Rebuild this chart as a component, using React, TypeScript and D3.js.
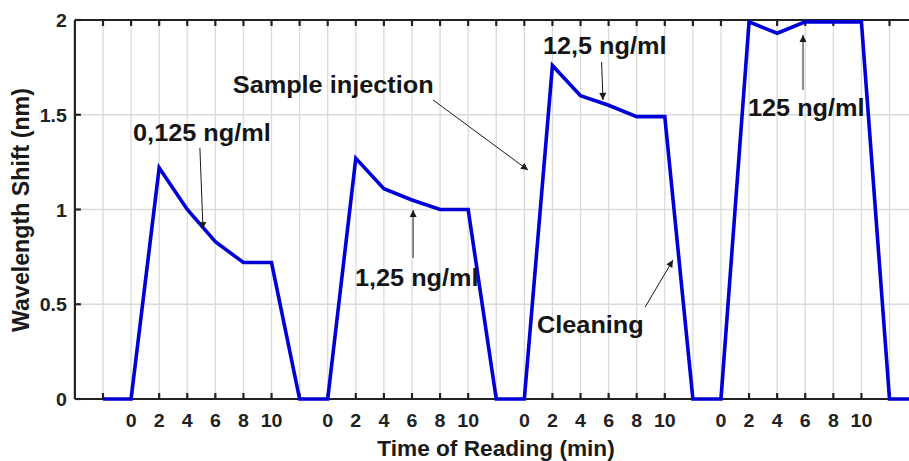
import React from 'react';
import * as d3 from 'd3';

// readings taken at these times within each injection cycle
const times = [0, 2, 4, 6, 8, 10];
const concentrations = ['0,125 ng/ml', '1,25 ng/ml', '12,5 ng/ml', '125 ng/ml'];
const shift0125 = [0, 1.22, 1.0, 0.83, 0.72, 0.72];
const shift125a = [0, 1.27, 1.11, 1.05, 1.0, 1.0];
const shift125b = [0, 1.76, 1.6, 1.55, 1.49, 1.49];
const shift125c = [0, 1.99, 1.93, 1.99, 1.99, 1.99];
const cycles = [shift0125, shift125a, shift125b, shift125c];
const yTicks = [0, 0.5, 1, 1.5, 2];

// annotations in data units (x = reading slot index, y = shift)
const labels = [
  { text: concentrations[0], x: 1.07, y: 1.36 },
  { text: 'Sample injection', x: 4.62, y: 1.615 },
  { text: concentrations[2], x: 15.66, y: 1.82 },
  { text: concentrations[1], x: 8.97, y: 0.596 },
  { text: 'Cleaning', x: 15.45, y: 0.348 },
  { text: concentrations[3], x: 22.96, y: 1.493 },
];
const arrows = [
  { x1: 3.45, y1: 1.325, x2: 3.56, y2: 0.897 },
  { x1: 11.75, y1: 1.578, x2: 15.13, y2: 1.208 },
  { x1: 17.75, y1: 1.778, x2: 17.8, y2: 1.578 },
  { x1: 11.04, y1: 0.744, x2: 11.04, y2: 0.997 },
  { x1: 19.3, y1: 0.485, x2: 20.29, y2: 0.733 },
  { x1: 24.92, y1: 1.631, x2: 24.92, y2: 1.921 },
];

const W = 909;
const H = 461;
const FONT = "'Liberation Sans', Arial, sans-serif";
const SX = 1.06;

export default function App() {
  // one slot before each cycle for the baseline, then the 6 readings
  const series: [number, number][] = [];
  cycles.forEach((c, k) => {
    series.push([k * 7, 0]);
    c.forEach((v, j) => series.push([k * 7 + 1 + j, v]));
  });
  series.push([28, 0]);
  series.push([29.5, 0]);

  const x = d3.scaleLinear().domain([-1, 29.5]).range([74.9, 74.9 + 30.5 * 28.09]);
  const y = d3.scaleLinear().domain([0, 2]).range([399, 20]);
  const line = d3.line<[number, number]>().x(d => x(d[0])).y(d => y(d[1]));

  const xTicks = d3.range(0, 29);
  const tickLabel = (i: number) => (i % 7 === 0 ? '' : String(times[(i % 7) - 1]));

  const x0 = x(-1);
  const x1 = W + 10;
  const yTop = y(2);
  const yBot = y(0);

  return (
    <svg width={W} height={H} style={{ position: 'absolute', left: 0, top: 0, background: '#fff' }}
      fontFamily={FONT} fontWeight="bold">
      <defs>
        <marker id="ah" viewBox="0 0 10 10" refX="10" refY="5" markerWidth="9" markerHeight="7"
          markerUnits="userSpaceOnUse" orient="auto">
          <path d="M0,0 L10,5 L0,10 z" fill="#1a1a1a" />
        </marker>
        <clipPath id="plot">
          <rect x={x0} y={yTop - 2} width={x1 - x0} height={yBot - yTop + 4} />
        </clipPath>
      </defs>

      {/* grid */}
      <g stroke="#dadada" strokeWidth={1.3}>
        {xTicks.map(i => (
          <line key={i} x1={x(i)} x2={x(i)} y1={yTop} y2={yBot} />
        ))}
        {yTicks.slice(1, -1).map(v => (
          <line key={v} x1={x0} x2={x1} y1={y(v)} y2={y(v)} />
        ))}
      </g>

      {/* axes box */}
      <g stroke="#222" strokeWidth={2.2} fill="none">
        <line x1={x0} x2={x1} y1={yBot} y2={yBot} />
        <line x1={x0} x2={x1} y1={yTop} y2={yTop} />
        <line x1={x0} x2={x0} y1={yTop} y2={yBot} />
        {xTicks.map(i => (
          <g key={i}>
            <line x1={x(i)} x2={x(i)} y1={yBot} y2={yBot - 6} />
            <line x1={x(i)} x2={x(i)} y1={yTop} y2={yTop + 6} />
          </g>
        ))}
        {yTicks.map(v => (
          <line key={v} x1={x0} x2={x0 + 6} y1={y(v)} y2={y(v)} />
        ))}
      </g>

      {/* tick labels */}
      <g fill="#222" fontSize={18.5}>
        {xTicks.map(i => (
          <text key={i} textAnchor="middle" transform={`translate(${x(i)},${yBot + 28}) scale(${SX},1)`}>
            {tickLabel(i)}
          </text>
        ))}
        {yTicks.map(v => (
          <text key={v} textAnchor="end" transform={`translate(${x0 - 8},${y(v) + 7}) scale(${SX},1)`}>
            {String(v)}
          </text>
        ))}
      </g>

      {/* axis titles */}
      <text fontSize={22} fill="#1a1a1a" textAnchor="middle" transform={`translate(496,456) scale(1.03,1)`}>
        Time of Reading (min)
      </text>
      <text fontSize={23.2} fill="#1a1a1a" textAnchor="middle" transform={`translate(29,210) rotate(-90)`}>
        Wavelength Shift (nm)
      </text>

      {/* signal */}
      <path d={line(series) || ''} fill="none" stroke="#0000d6" strokeWidth={3.6}
        strokeLinejoin="miter" clipPath="url(#plot)" />

      {/* annotations */}
      <g fill="#151515" fontSize={23}>
        {labels.map(l => (
          <text key={l.text} transform={`translate(${x(l.x)},${y(l.y)}) scale(1.1,1)`}>{l.text}</text>
        ))}
      </g>
      <g stroke="#1a1a1a" strokeWidth={1}>
        {arrows.map((a, i) => (
          <line key={i} x1={x(a.x1)} y1={y(a.y1)} x2={x(a.x2)} y2={y(a.y2)} markerEnd="url(#ah)" />
        ))}
      </g>
    </svg>
  );
}
